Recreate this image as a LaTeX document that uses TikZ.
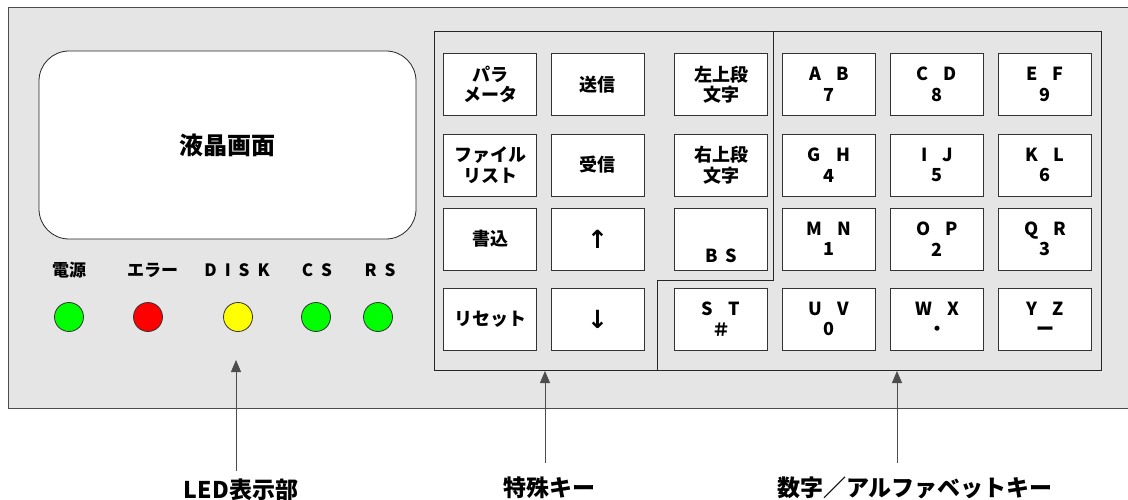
\documentclass[tikz,border=0pt]{standalone}
\usepackage{fontspec}
\setmainfont{Noto Sans CJK JP}
\newfontfamily\arrowfont{DejaVu Sans}
\usetikzlibrary{arrows.meta}
\definecolor{panelgray}{RGB}{229,229,229}
\definecolor{ledgreen}{RGB}{0,255,0}
\definecolor{ledred}{RGB}{255,0,0}
\definecolor{ledyellow}{RGB}{255,255,0}
\newcommand\keypair[2]{#1\hspace{15pt}#2}
\newcommand\lgap{\hspace{8pt}}
\tikzset{
  key/.style={draw=black!80, fill=white, minimum width=93pt, minimum height=62pt, inner sep=0pt, align=center, font=\bfseries\fontsize{18}{20.5}\selectfont},
  keytext/.style={inner sep=0pt, font=\bfseries\fontsize{18}{20.5}\selectfont},
  arrowkey/.style={key, font=\arrowfont\bfseries\fontsize{25}{25}\selectfont},
  led/.style={circle, draw=black!80, minimum size=29pt, inner sep=0pt},
  ledname/.style={inner sep=0pt, font=\bfseries\fontsize{17}{17}\selectfont},
  caption/.style={inner sep=0pt, font=\bfseries\fontsize{23}{23}\selectfont},
  pointer/.style={black!70, -{Triangle[length=12pt,width=10pt]}}
}

\begin{document}
\begin{tikzpicture}  [x=1pt,y=-1pt,line width=0.8pt]
\useasboundingbox (0,0) rectangle (1128,500);

\fill[panelgray] (8,7) rectangle (1128,408);
\draw[black!70] (1128,7)--(8,7)--(8,408)--(1128,408);

\node[draw=black!85, fill=white, rounded corners=30pt, minimum width=377pt, minimum height=188pt, font=\bfseries\fontsize{24}{24}\selectfont] (lcd) at (227.5,145) {液晶画面};

\node[ledname] (powername) at (69,270) {電源};
\node[ledname] (errname) at (152.5,270) {エラー};
\node[ledname] (diskname) at (237,270) {D\lgap I\lgap S\lgap K};
\node[ledname] (csname) at (317,270) {C\lgap S};
\node[ledname] (rsname) at (380,270) {R\lgap S};

\node[led, fill=ledgreen] (power) at (69,317) {};
\node[led, fill=ledred] (err) at (148,317) {};
\node[led, fill=ledyellow] (disk) at (238,317) {};
\node[led, fill=ledgreen] (cs) at (316,317) {};
\node[led, fill=ledgreen] (rs) at (378,317) {};

\draw[black!85] (434,31) rectangle (1101,370);
\draw[black!85] (773,31)--(773,280)--(657,280)--(657,370);

\node[key] (param) at (490,84.5) {パラ\\メータ};
\node[key] (send) at (597.5,84.5) {送信};
\node[key] (leftup) at (721,84.5) {左上段\\文字};
\node[key] (file) at (490,165) {ファイル\\リスト};
\node[key] (recv) at (597.5,165) {受信};
\node[key] (rightup) at (721,165) {右上段\\文字};
\node[key] (write) at (490,239) {書込};
\node[arrowkey] (up) at (597.5,239) {↑};
\node[key] (bskey) at (721,239) {};
\node[keytext] (bs) at ([yshift=-17pt]bskey.center) {B\hspace{8pt}S};
\node[key] (reset) at (490,319) {リセット};
\node[arrowkey] (down) at (597.5,319) {↓};
\node[key] (st) at (721,319) {\keypair{S}{T}\\＃};

\node[key] (ab) at (829,84.5) {\keypair{A}{B}\\7};
\node[key] (cd) at (937,84.5) {\keypair{C}{D}\\8};
\node[key] (ef) at (1045,84.5) {\keypair{E}{F}\\9};
\node[key] (gh) at (829,165) {\keypair{G}{H}\\4};
\node[key] (ij) at (937,165) {\keypair{I}{J}\\5};
\node[key] (kl) at (1045,165) {\keypair{K}{L}\\6};
\node[key] (mn) at (829,239) {\keypair{M}{N}\\1};
\node[key] (op) at (937,239) {\keypair{O}{P}\\2};
\node[key] (qr) at (1045,239) {\keypair{Q}{R}\\3};
\node[key] (uv) at (829,319) {\keypair{U}{V}\\0};
\node[key] (wx) at (937,319) {\keypair{W}{X}\\・};
\node[key] (yz) at (1045,319) {\keypair{Y}{Z}\\ー};

\coordinate (ledtip) at (236,360);
\coordinate (ledfoot) at (236,471);
\coordinate (specialtip) at (545,371);
\coordinate (specialfoot) at (545,463);
\coordinate (alnumtip) at (897,371);
\coordinate (alnumfoot) at (897,463);

\draw[pointer] (ledfoot)--(ledtip);
\draw[pointer] (specialfoot)--(specialtip);
\draw[pointer] (alnumfoot)--(alnumtip);

\node[caption] (ledcap) at (241,490) {LED表示部};
\node[caption] (specialcap) at (549,488) {特殊キー};
\node[caption] (alnumcap) at (915,488) {数字／アルファベットキー};

\end{tikzpicture}
\end{document}
